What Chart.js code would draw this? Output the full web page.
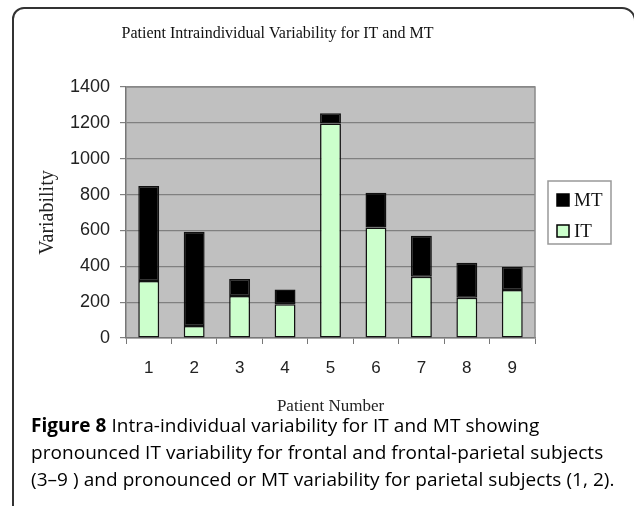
<!DOCTYPE html>
<html>
<head>
<meta charset="utf-8">
<script src="https://cdn.jsdelivr.net/npm/chart.js@4"></script>
<style>
  html, body { margin: 0; padding: 0; background: #fff; }
  body { width: 634px; height: 506px; position: relative; overflow: hidden; }
  #frame { position: absolute; left: 12px; top: 7px; width: 624px; height: 560px;
           border: 2px solid #333; border-radius: 12px 14px 0 0; box-sizing: border-box; }
  #wrap { position: absolute; left: 0; top: 0; width: 634px; height: 420px; }
  #caption { position: absolute; left: 31px; top: 412px; width: 600px;
             font-family: "Open Sans", sans-serif; font-size: 19px; font-weight: 500; line-height: 27px; color: #000; white-space: nowrap; letter-spacing: 0.05px; }
  #caption b { font-weight: 700; }
</style>
</head>
<body>
<div id="frame"></div>
<div id="wrap"><canvas id="c" width="634" height="420"></canvas></div>
<div id="caption">
  <div><b>Figure 8</b> Intra-individual variability for IT and MT showing</div>
  <div>pronounced IT variability for frontal and frontal-parietal subjects</div>
  <div>(3–9 ) and pronounced or MT variability for parietal subjects (1, 2).</div>
</div>
<script>
const categories = ["1", "2", "3", "4", "5", "6", "7", "8", "9"];
const itValues = [318, 67, 234, 188, 1197, 617, 342, 225, 268];
const mtValues = [530, 526, 95, 82, 56, 193, 229, 195, 130];
const yTicks = [0, 200, 400, 600, 800, 1000, 1200, 1400];
const seriesNames = ["IT", "MT"];
const seriesColors = ["#ccffcc", "#000000"];

const plotBg = {
  id: 'plotBg',
  beforeDraw(chart) {
    const {ctx, chartArea: a} = chart;
    ctx.save();
    ctx.fillStyle = '#c0c0c0';
    ctx.fillRect(a.left, a.top, a.right - a.left, a.bottom - a.top);
    ctx.restore();
  },
  afterDatasetsDraw(chart) {
    const {ctx, chartArea: a} = chart;
    ctx.save();
    ctx.strokeStyle = '#8a8a8a';
    ctx.lineWidth = 1.5;
    ctx.beginPath();
    ctx.moveTo(a.left, a.top); ctx.lineTo(a.right, a.top); ctx.lineTo(a.right, a.bottom);
    ctx.stroke();
    ctx.restore();
  }
};

const boxLegend = {
  id: 'boxLegend',
  afterDraw(chart) {
    const ctx = chart.ctx;
    const x0 = 548, y0 = 181, w = 63, h = 63;
    ctx.save();
    ctx.fillStyle = '#fff';
    ctx.fillRect(x0, y0, w, h);
    ctx.strokeStyle = '#999';
    ctx.lineWidth = 1.5;
    ctx.strokeRect(x0, y0, w, h);
    const items = chart.data.datasets.slice().reverse();
    items.forEach((ds, i) => {
      const cy = y0 + 19 + i * 31;
      ctx.fillStyle = ds.backgroundColor;
      ctx.fillRect(557, cy - 6, 12, 12);
      ctx.strokeStyle = '#000';
      ctx.lineWidth = 1.5;
      ctx.strokeRect(557, cy - 6, 12, 12);
      ctx.fillStyle = '#111';
      ctx.font = '19px "Liberation Serif", serif';
      ctx.textBaseline = 'middle';
      ctx.textAlign = 'left';
      ctx.fillText(ds.label, 574, cy + 1);
    });
    ctx.restore();
  }
};

new Chart(document.getElementById('c'), {
  type: 'bar',
  data: {
    labels: categories,
    datasets: [
      { label: seriesNames[0], data: itValues, backgroundColor: seriesColors[0], borderColor: '#111', borderWidth: 1.5, borderSkipped: false },
      { label: seriesNames[1], data: mtValues, backgroundColor: seriesColors[1], borderColor: '#111', borderWidth: 1.5, borderSkipped: false }
    ]
  },
  plugins: [plotBg, boxLegend],
  options: {
    responsive: false,
    animation: false,
    devicePixelRatio: 1,
    layout: { padding: { left: 20, right: 99, top: 0, bottom: 0 } },
    datasets: { bar: { barPercentage: 0.46, categoryPercentage: 1 } },
    plugins: {
      legend: { display: false },
      tooltip: { enabled: false },
      title: {
        display: true,
        text: 'Patient Intraindividual Variability for IT and MT',
        color: '#111',
        font: { family: '"Liberation Serif", serif', size: 16, weight: 'normal', lineHeight: 1.2 },
        padding: { top: 24, bottom: 43.8 }
      }
    },
    scales: {
      x: {
        stacked: true,
        afterFit(s) { s.height = 82; },
        grid: { drawOnChartArea: false, drawTicks: true, tickLength: 6, color: '#777', offset: true },
        border: { color: '#777', width: 1.5 },
        ticks: { color: '#222', padding: 14, font: { family: '"Liberation Sans", Arial, sans-serif', size: 17 } },
        title: { display: true, text: 'Patient Number', color: '#222', padding: 3,
                 font: { family: '"Liberation Serif", serif', size: 17, lineHeight: 1.2 } }
      },
      y: {
        stacked: true,
        min: 0, max: 1400,
        afterFit(s) { s.width = 106; },
        afterBuildTicks(s) { s.ticks = yTicks.map(v => ({ value: v })); },
        grid: { color: '#808080', lineWidth: 1.2, tickLength: 6 },
        border: { color: '#777', width: 1.5 },
        ticks: { color: '#222', padding: 10, font: { family: '"Liberation Sans", Arial, sans-serif', size: 18 },
                 callback: (v) => String(v) },
        title: { display: true, text: 'Variability', color: '#222', padding: 16,
                 font: { family: '"Liberation Serif", serif', size: 20, lineHeight: 1.2 } }
      }
    }
  }
});
</script>
</body>
</html>
